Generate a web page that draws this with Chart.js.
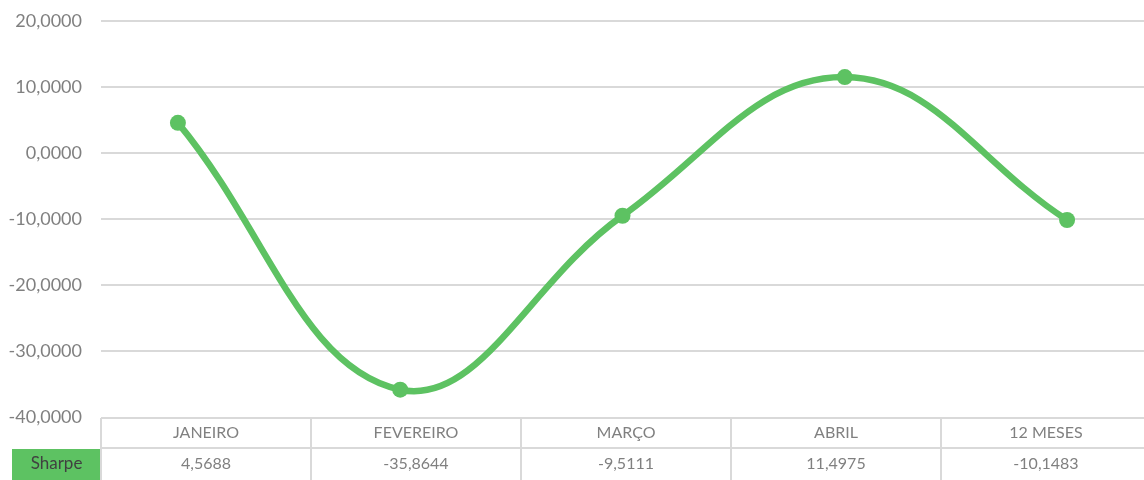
<!DOCTYPE html>
<html>
<head>
<meta charset="utf-8">
<script src="https://cdn.jsdelivr.net/npm/chart.js@4"></script>
<style>
  html, body { margin: 0; padding: 0; background: #fff; }
  #wrap { width: 1144px; height: 480px; position: relative; }
</style>
</head>
<body>
<div id="wrap"><canvas id="chart"></canvas></div>
<script>
// dados do gráfico (Sharpe por período)
const categories = ['JANEIRO', 'FEVEREIRO', 'MARÇO', 'ABRIL', '12 MESES'];
const seriesName = 'Sharpe';
const sharpe = [4.5688, -35.8644, -9.5111, 11.4975, -10.1483];
const yTicks = [20, 10, 0, -10, -20, -30, -40];

const GREEN = '#5DC262';
const GREY_TXT = '#808080';
const GRID = '#d9d9d9';
const FONT = 'Lato, "Open Sans", sans-serif';

const fmt = (v) => v.toFixed(4).replace('.', ',');

/* === tabela de dados embaixo do gráfico === */
const dataTable = {
  id: 'dataTable',
  afterDraw(chart) {
    const ctx = chart.ctx;
    const area = chart.chartArea;
    const top = area.bottom + 1;
    const rowH = 30;
    const colW = 210;
    const left = area.left;
    const n = categories.length;

    ctx.save();
    // célula da legenda
    ctx.fillStyle = GREEN;
    ctx.fillRect(12, top + rowH + 1, left - 12, 40);

    ctx.strokeStyle = GRID;
    ctx.lineWidth = 2;
    ctx.beginPath();
    ctx.moveTo(left, top); ctx.lineTo(left + colW * n, top);
    ctx.moveTo(left, top + rowH); ctx.lineTo(left + colW * n, top + rowH);
    for (let i = 0; i <= n; i++) {
      ctx.moveTo(left + colW * i, top);
      ctx.lineTo(left + colW * i, chart.height);
    }
    ctx.stroke();

    ctx.font = `16px ${FONT}`;
    ctx.textAlign = 'center';
    ctx.textBaseline = 'middle';
    ctx.fillStyle = GREY_TXT;
    categories.forEach((c, i) => {
      const cx = left + colW * i + colW / 2;
      ctx.fillText(c, cx, top + rowH / 2);
      ctx.fillText(fmt(sharpe[i]), cx, top + rowH + 16);
    });
    ctx.font = `17px ${FONT}`;
    ctx.fillStyle = '#404040';
    ctx.fillText(seriesName, (12 + left) / 2, top + rowH + 16);
    ctx.restore();
  }
};

new Chart(document.getElementById('chart'), {
  type: 'line',
  data: {
    datasets: [{
      label: seriesName,
      data: sharpe.map((v, i) => ({ x: i, y: v })),
      borderColor: GREEN,
      backgroundColor: GREEN,
      borderWidth: 6.5,
      tension: 0.4,
      pointRadius: 8,
      pointHoverRadius: 8,
      pointBorderWidth: 0,
      clip: false
    }]
  },
  options: {
    responsive: true,
    maintainAspectRatio: false,
    animation: false,
    layout: { autoPadding: false, padding: { top: 21, right: 0, bottom: 63, left: 0 } },
    plugins: { legend: { display: false }, tooltip: { enabled: false } },
    scales: {
      x: {
        type: 'linear',
        display: false,
        min: -0.346,
        max: 4.346
      },
      y: {
        min: -40,
        max: 20,
        afterFit: (s) => { s.width = 101; },
        afterBuildTicks: (s) => { s.ticks = yTicks.map(v => ({ value: v })); },
        border: { display: false },
        grid: {
          color: (c) => c.tick && c.tick.value === -40 ? 'rgba(0,0,0,0)' : GRID,
          lineWidth: 2,
          drawTicks: true,
          tickLength: 19,
          tickColor: 'rgba(0,0,0,0)'
        },
        ticks: {
          color: GREY_TXT,
          padding: 0,
          font: { family: FONT, size: 18 },
          callback: (v) => fmt(v)
        }
      }
    }
  },
  plugins: [dataTable]
});
</script>
</body>
</html>
